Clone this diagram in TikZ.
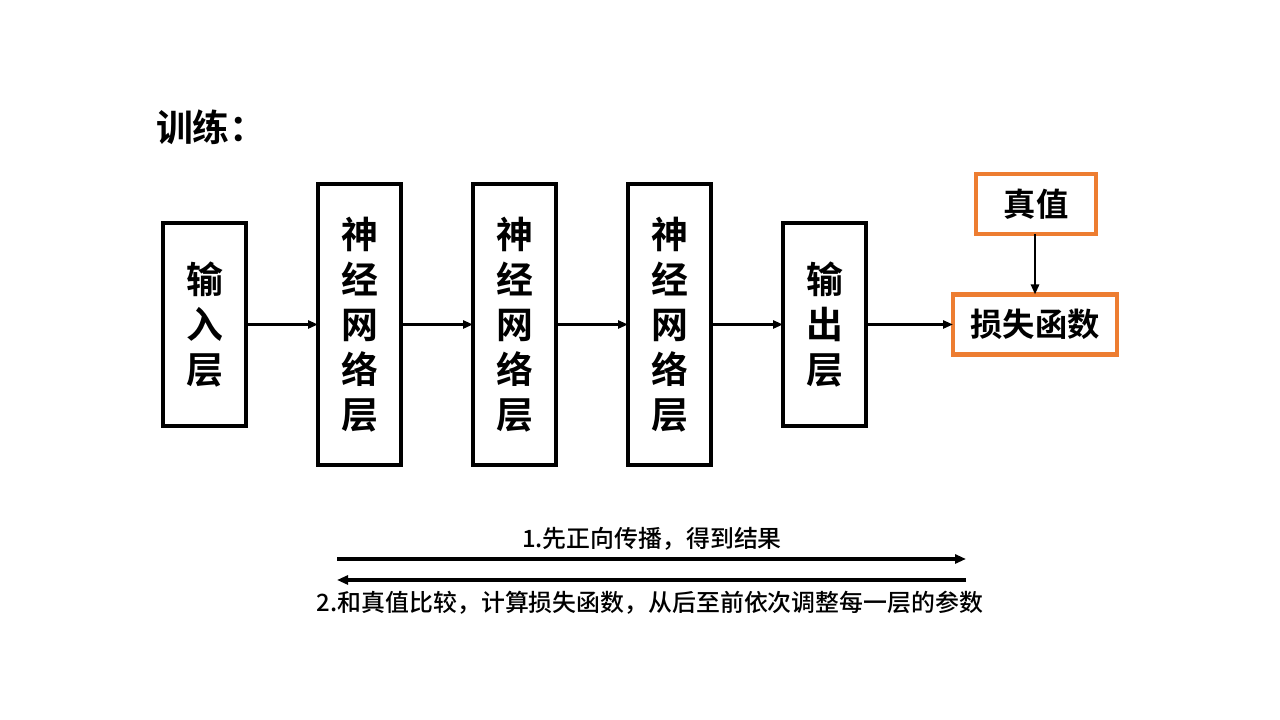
\documentclass[tikz,border=0pt]{standalone}
\usepackage{fontspec}
\usepackage{tikz}
\usetikzlibrary{arrows.meta}
\newfontfamily\cjk{Noto Sans CJK SC}[BoldFont={Noto Sans CJK SC Bold}]
\newfontfamily\cjkmid{Noto Sans CJK SC Medium}
\definecolor{boxorange}{RGB}{237,125,49}

\begin{document}
\begin{tikzpicture}[every node/.style={inner sep=0pt, outer sep=0pt, font=\cjk\bfseries\fontsize{10.5pt}{12.8pt}\selectfont},
  layer/.style={draw=black, line width=0.9pt, minimum width=0.83cm, align=center},
  lossbox/.style={draw=boxorange, line width=1.2pt, minimum height=0.6cm, font=\cjk\bfseries\fontsize{9.2pt}{11pt}\selectfont},
  flow/.style={-{Triangle[length=1mm,width=0.8mm]}, line width=0.8pt},
  pass/.style={-{Triangle[length=1.1mm,width=0.9mm]}, line width=1pt},
  note/.style={font=\cjkmid\fontsize{6.8pt}{8pt}\selectfont}]
\useasboundingbox (0,0) rectangle (12.8,7.2);

\node[anchor=west] (title) at (1.56,5.93) {训练：};

\node[layer, minimum height=2.03cm] (in) at (2.045,3.955) {输\\入\\层};
\node[layer, minimum height=2.81cm] (h1) at (3.595,3.955) {神\\经\\网\\络\\层};
\node[layer, minimum height=2.81cm] (h2) at (5.145,3.955) {神\\经\\网\\络\\层};
\node[layer, minimum height=2.81cm] (h3) at (6.695,3.955) {神\\经\\网\\络\\层};
\node[layer, minimum height=2.03cm] (out) at (8.245,3.955) {输\\出\\层};

\node[lossbox, minimum width=1.64cm] (loss) at (10.35,3.955) {损失函数};
\node[lossbox, minimum width=1.2cm] (truth) at (10.36,5.16) {真值};

\draw[flow] (in) -- (h1);
\draw[flow] (h1) -- (h2);
\draw[flow] (h2) -- (h3);
\draw[flow] (h3) -- (out);
\draw[flow] (out) -- (loss);
\draw[flow] (truth.south -| loss.north) -- (loss.north);

% forward and backward passes
\coordinate (fwdL) at (3.37,1.61);
\coordinate (fwdR) at (9.66,1.61);
\coordinate (bwdL) at (3.37,1.40);
\coordinate (bwdR) at (9.66,1.40);
\draw[pass] (fwdL) -- (fwdR);
\draw[pass] (bwdR) -- (bwdL);
\node[note] (fwd) at (6.52,1.81) {1.先正向传播，得到结果};
\node[note] (bwd) at (6.50,1.17) {2.和真值比较，计算损失函数，从后至前依次调整每一层的参数};
\end{tikzpicture}
\end{document}
